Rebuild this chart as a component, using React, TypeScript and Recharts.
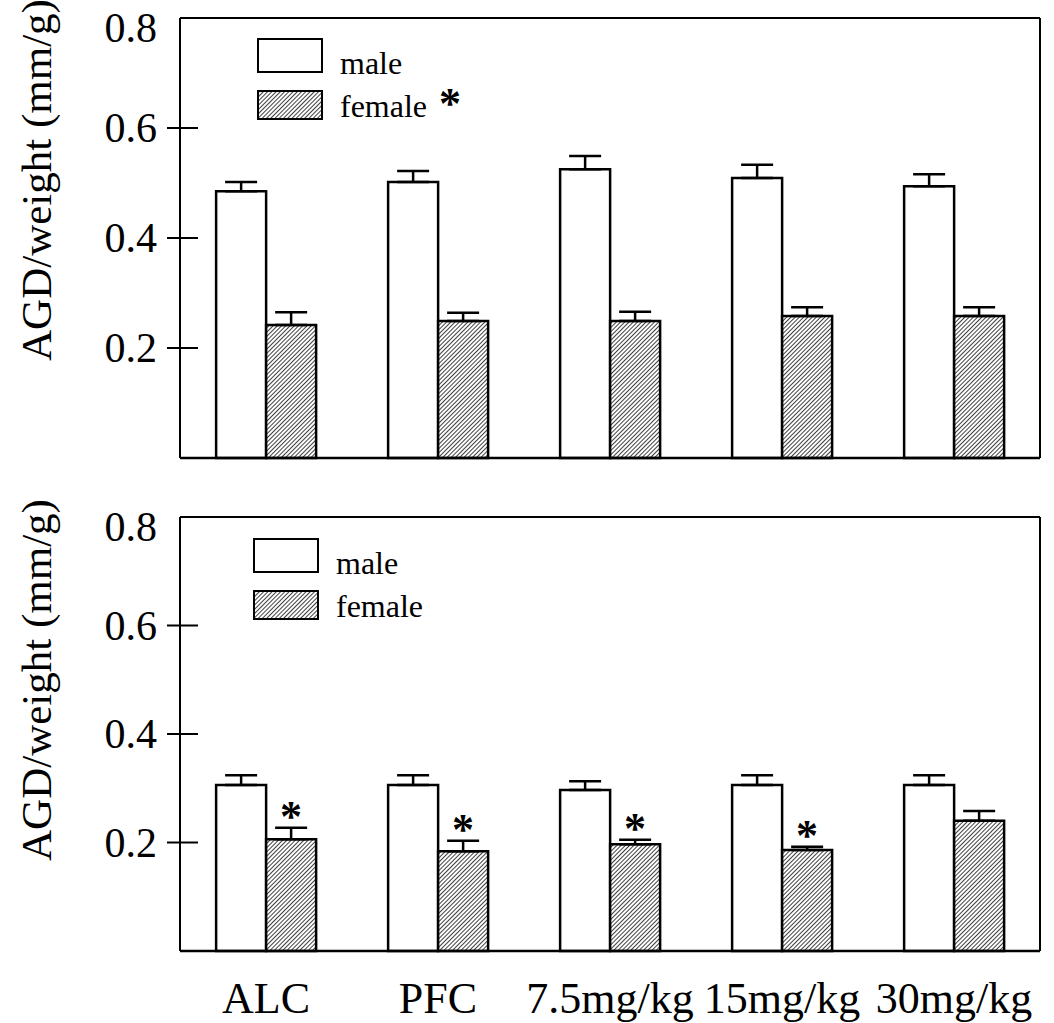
import React from 'react';
import { BarChart, Bar, XAxis, YAxis, ErrorBar, Legend, LabelList } from 'recharts';

const groups = ['ALC', 'PFC', '7.5mg/kg', '15mg/kg', '30mg/kg'];
const yTicks = [0.2, 0.4, 0.6, 0.8];

// upper panel
const maleTop = [0.485, 0.502, 0.525, 0.509, 0.494];
const maleErrTop = [0.017, 0.02, 0.024, 0.024, 0.022];
const femaleTop = [0.242, 0.249, 0.249, 0.258, 0.258];
const femaleErrTop = [0.023, 0.015, 0.017, 0.016, 0.016];

// lower panel
const maleBottom = [0.306, 0.306, 0.297, 0.306, 0.306];
const maleErrBottom = [0.018, 0.018, 0.016, 0.018, 0.018];
const femaleBottom = [0.206, 0.184, 0.197, 0.186, 0.24];
const femaleErrBottom = [0.021, 0.019, 0.008, 0.006, 0.018];
const starBottom = [true, true, true, true, false];

const FONT = '"Liberation Serif", "Times New Roman", serif';

const buildRows = (male: number[], maleErr: number[], female: number[], femaleErr: number[], star: boolean[]) =>
  groups.map((g, i) => ({
    group: g,
    male: male[i],
    female: female[i],
    maleErr: [0, maleErr[i]],
    femaleErr: [0, femaleErr[i]],
    fErr: femaleErr[i],
    star: star[i],
  }));

const rowsTop = buildRows(maleTop, maleErrTop, femaleTop, femaleErrTop, [false, false, false, false, false]);
const rowsBottom = buildRows(maleBottom, maleErrBottom, femaleBottom, femaleErrBottom, starBottom);

const YTick = (props: any) => {
  const { y, payload } = props;
  const v = payload.value;
  const ty = v === 0.8 ? y + 24 : y + 14;
  return (
    <g>
      {v !== 0.8 && <line x1={167} x2={198} y1={y} y2={y} stroke='#000' strokeWidth={2} />}
      <text x={157} y={ty} textAnchor='end' fontSize={42} fontFamily={FONT} fill='#000'>
        {v.toFixed(1)}
      </text>
    </g>
  );
};

const XTick = (props: any) => {
  const { x, y, payload } = props;
  return (
    <text x={x} y={y + 60} textAnchor='middle' fontSize={44} fontFamily={FONT} fill='#000'>
      {payload.value}
    </text>
  );
};

const YLabel = ({ cy }: { cy: number }) => (
  <text
    transform={`translate(36, ${cy}) rotate(-90)`}
    textAnchor='middle'
    dominantBaseline='central'
    fontSize={43}
    fontFamily={FONT}
    fill='#000'
  >
    AGD/weight (mm/g)
  </text>
);

const LegendBox = ({ hatchId, femaleStar }: { hatchId: string; femaleStar: boolean }) => (
  <svg width={240} height={90} style={{ overflow: 'visible' }}>
    <rect x={1} y={1} width={64} height={33} fill='#fff' stroke='#000' strokeWidth={2} />
    <text x={83} y={36} fontSize={32} fontFamily={FONT} fill='#000'>male</text>
    <rect x={1} y={53} width={64} height={28} fill={`url(#${hatchId})`} stroke='#000' strokeWidth={2} />
    <text x={83} y={79} fontSize={32} fontFamily={FONT} fill='#000'>female</text>
    {femaleStar && (
      <text x={182} y={80} fontSize={44} fontWeight='bold' fontFamily={FONT} fill='#000'>*</text>
    )}
  </svg>
);

const makeStar = (rows: any[]) => (props: any) => {
  const { index } = props;
  const vb = props.viewBox || props;
  const row = rows[index];
  if (!row || !row.star) return null;
  const k = vb.height / row.female;
  const capY = vb.y - row.fErr * k;
  return (
    <text x={vb.x + vb.width / 2} y={capY + 3} textAnchor='middle' fontSize={44} fontWeight='bold' fontFamily={FONT} fill='#000'>
      *
    </text>
  );
};

interface PanelProps {
  rows: any[];
  height: number;
  margin: { top: number; right: number; bottom: number; left: number };
  showX: boolean;
  hatchId: string;
  legendLeft: number;
  legendTop: number;
  legendStar: boolean;
  labelCy: number;
}

function Panel({ rows, height, margin, showX, hatchId, legendLeft, legendTop, legendStar, labelCy }: PanelProps) {
  return (
    <BarChart width={1054} height={height} data={rows} margin={margin} barCategoryGap='21%' barGap={0}>
      <defs>
        <pattern id={hatchId} patternUnits='userSpaceOnUse' width={3} height={3} patternTransform='rotate(45)'>
          <rect width={3} height={3} fill='#fff' />
          <line x1={0} y1={0} x2={0} y2={3} stroke='#000' strokeWidth={1.5} />
        </pattern>
      </defs>
      <XAxis
        dataKey='group'
        interval={0}
        height={showX ? 72 : 1}
        tickLine={false}
        tickSize={0}
        tick={showX ? <XTick /> : false}
        axisLine={{ stroke: '#000', strokeWidth: 2.5 }}
      />
      <XAxis xAxisId='top' dataKey='group' orientation='top' height={1} tick={false} tickLine={false} axisLine={{ stroke: '#000', strokeWidth: 2 }} />
      <YAxis
        width={180}
        domain={[0, 0.8]}
        ticks={yTicks}
        interval={0}
        tickLine={false}
        tick={<YTick />}
        axisLine={{ stroke: '#000', strokeWidth: 2 }}
        label={<YLabel cy={labelCy} />}
      />
      <YAxis yAxisId='right' orientation='right' width={1} domain={[0, 0.8]} tick={false} tickLine={false} axisLine={{ stroke: '#000', strokeWidth: 2 }} />
      <Legend
        layout='vertical'
        align='center'
        verticalAlign='middle'
        wrapperStyle={{ position: 'absolute', left: legendLeft, top: legendTop, width: 240, height: 90 }}
        content={() => <LegendBox hatchId={hatchId} femaleStar={legendStar} />}
      />
      <Bar dataKey='male' name='male' fill='#fff' stroke='#000' strokeWidth={2.5} isAnimationActive={false}>
        <ErrorBar dataKey='maleErr' width={16} stroke='#000' strokeWidth={2.5} direction='y' />
      </Bar>
      <Bar dataKey='female' name='female' fill={`url(#${hatchId})`} stroke='#000' strokeWidth={2.5} isAnimationActive={false}>
        <ErrorBar dataKey='femaleErr' width={16} stroke='#000' strokeWidth={2.5} direction='y' />
        <LabelList dataKey='female' content={makeStar(rows)} />
      </Bar>
    </BarChart>
  );
}

export default function App() {
  return (
    <div style={{ position: 'absolute', left: 0, top: 0, width: 1054, height: 1023, background: '#fff' }}>
      <Panel
        rows={rowsTop}
        height={490}
        margin={{ top: 17, right: 13, bottom: 31, left: 0 }}
        showX={false}
        hatchId='hatchTop'
        legendLeft={257}
        legendTop={38}
        legendStar={true}
        labelCy={180}
      />
      <Panel
        rows={rowsBottom}
        height={533}
        margin={{ top: 26, right: 13, bottom: 0, left: 0 }}
        showX={true}
        hatchId='hatchBottom'
        legendLeft={253}
        legendTop={48}
        legendStar={false}
        labelCy={190}
      />
    </div>
  );
}
